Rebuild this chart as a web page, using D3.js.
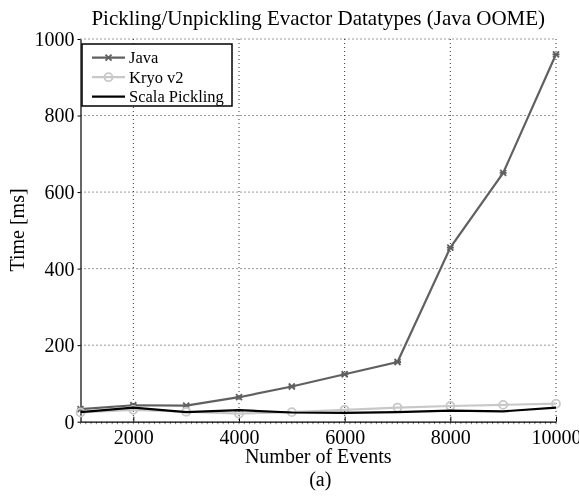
<!DOCTYPE html>
<head>
<meta charset="utf-8">
<style>
html, body { margin:0; padding:0; overflow:hidden; background-color:#fff; }
svg { position:fixed; top:0; left:0; }
text { font-family: "Liberation Serif", "Times New Roman", serif; fill:#000; }
</style>
</head>
<body>
<svg id="stage" width="579" height="496"></svg>
<script src="https://d3js.org/d3.v7.min.js"></script>
<script>

// data
var events = [1000, 2000, 3000, 4000, 5000, 6000, 7000, 8000, 9000, 10000];
var java   = [33, 43, 42, 64, 92, 124, 156, 455, 650, 960];
var kryo   = [24, 31, 26, 21, 25, 31, 37, 41, 44, 47];
var scala  = [25, 37, 25, 30, 24, 23, 25, 29, 27, 37];
var xTicks = [2000, 4000, 6000, 8000, 10000];
var yTicks = [0, 200, 400, 600, 800, 1000];

var series = [
  { name: "Java", vals: java, color: "#606060", mark: "x" },
  { name: "Kryo v2", vals: kryo, color: "#c8c8c8", mark: "o" },
  { name: "Scala Pickling", vals: scala, color: "#000000", mark: null }
];

var svg = d3.select("svg");
var L = 80.5, R = 556, T = 39, B = 421.7;
var cx = (L + R) / 2;

var x = d3.scaleLinear().domain([1000, 10000]).range([L, R]);
var y = d3.scaleLinear().domain([0, 1000]).range([B, T]);

// grid
var g = svg.append("g");
g.selectAll(".gx").data(xTicks).enter().append("line")
  .attr("x1", d => x(d)).attr("x2", d => x(d)).attr("y1", T).attr("y2", B)
  .attr("stroke", "#000").attr("stroke-width", 0.8).attr("stroke-dasharray", "1,3");
g.selectAll(".gy").data(yTicks.slice(1)).enter().append("line")
  .attr("x1", L).attr("x2", R).attr("y1", d => y(d)).attr("y2", d => y(d))
  .attr("stroke", "#000").attr("stroke-width", 0.8).attr("stroke-dasharray", "1,3");

// minor ticks under the x axis
svg.append("g").selectAll("line").data(d3.range(1000, 10001, 100)).enter().append("line")
  .attr("x1", d => x(d)).attr("x2", d => x(d)).attr("y1", B).attr("y2", B + 2.5)
  .attr("stroke", "#555").attr("stroke-width", 0.8);

// axes
var xAxis = d3.axisBottom(x).tickValues(xTicks).tickSizeInner(-5).tickSizeOuter(0).tickFormat(d3.format("d"));
var yAxis = d3.axisLeft(y).tickValues(yTicks).tickSizeInner(3).tickSizeOuter(0).tickPadding(3).tickFormat(d3.format("d"));

svg.append("g").attr("transform", "translate(0," + B + ")").call(xAxis)
  .call(s => s.select(".domain").attr("stroke-width", 1.2))
  .selectAll("text").attr("y", 22).attr("dy", 0)
  .style("font-size", "20px").style("font-family", "Liberation Serif");
svg.append("g").attr("transform", "translate(" + L + ",0)").call(yAxis)
  .call(s => s.select(".domain").attr("stroke-width", 1.2))
  .selectAll("text").style("font-size", "20px").style("font-family", "Liberation Serif");

// lines
var line = d3.line().x((d, i) => x(events[i])).y(d => y(d));
series.forEach(function(s) {
  svg.append("path").datum(s.vals).attr("d", line)
    .attr("fill", "none").attr("stroke", s.color).attr("stroke-width", 2.2);
  if (s.mark === "x") {
    svg.selectAll(null).data(s.vals).enter().append("path")
      .attr("transform", (d, i) => "translate(" + x(events[i]) + "," + y(d) + ")")
      .attr("d", "M-3,-3L3,3M-3,3L3,-3M-3.5,0L3.5,0")
      .attr("stroke", s.color).attr("stroke-width", 1.8);
  } else if (s.mark === "o") {
    svg.selectAll(null).data(s.vals).enter().append("circle")
      .attr("cx", (d, i) => x(events[i])).attr("cy", d => y(d)).attr("r", 4)
      .attr("fill", "none").attr("stroke", s.color).attr("stroke-width", 1.8);
  }
});

// legend
var lg = svg.append("g");
lg.append("rect").attr("x", 82).attr("y", 44).attr("width", 150).attr("height", 62)
  .attr("fill", "#fff").attr("stroke", "#000").attr("stroke-width", 1.5);
series.forEach(function(s, i) {
  var ly = 57.7 + i * 19.5;
  lg.append("line").attr("x1", 92).attr("x2", 125).attr("y1", ly).attr("y2", ly)
    .attr("stroke", s.color).attr("stroke-width", 2.2);
  if (s.mark === "x") {
    lg.append("path").attr("transform", "translate(108.5," + ly + ")")
      .attr("d", "M-3,-3L3,3M-3,3L3,-3").attr("stroke", s.color).attr("stroke-width", 1.8);
  } else if (s.mark === "o") {
    lg.append("circle").attr("cx", 108.5).attr("cy", ly).attr("r", 4)
      .attr("fill", "none").attr("stroke", s.color).attr("stroke-width", 1.8);
  }
  lg.append("text").attr("x", 129).attr("y", ly + 5.5).style("font-size", "16.5px").text(s.name);
});

// titles
svg.append("text").attr("x", cx).attr("y", 25).attr("text-anchor", "middle")
  .style("font-size", "21px").text("Pickling/Unpickling Evactor Datatypes (Java OOME)");
svg.append("text").attr("x", cx).attr("y", 463).attr("text-anchor", "middle")
  .style("font-size", "20px").text("Number of Events");
svg.append("text").attr("x", cx + 2).attr("y", 486).attr("text-anchor", "middle")
  .style("font-size", "20px").text("(a)");
svg.append("text").attr("transform", "translate(24,230) rotate(-90)").attr("text-anchor", "middle")
  .style("font-size", "20px").text("Time [ms]");

</script>
